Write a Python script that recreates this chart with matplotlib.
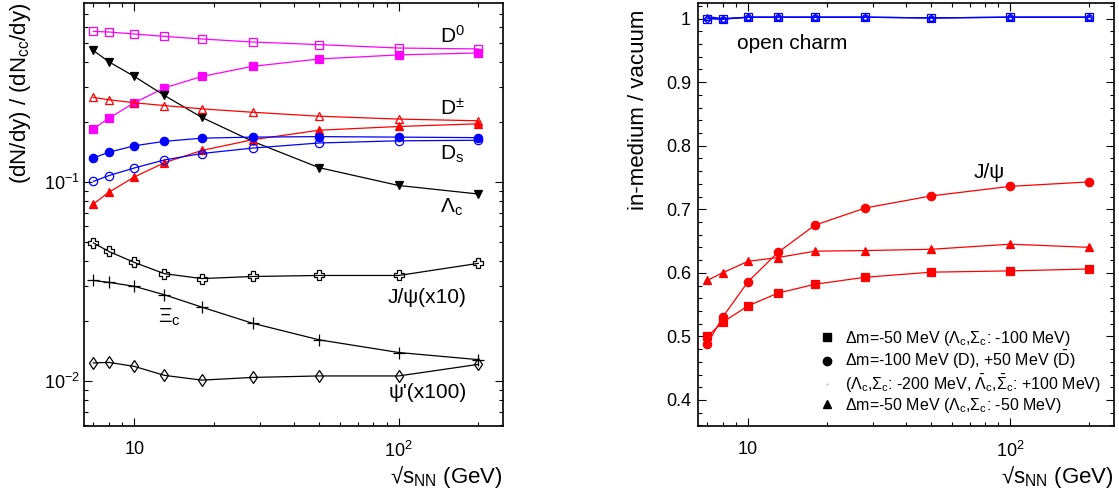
import numpy as np
import matplotlib
matplotlib.use("Agg")
import matplotlib.pyplot as plt
from matplotlib.lines import Line2D
from matplotlib.ticker import LogLocator, MultipleLocator, FuncFormatter, NullFormatter

plt.rcParams['font.family'] = ['Liberation Sans', 'DejaVu Sans']
plt.rcParams['mathtext.fontset'] = 'custom'
plt.rcParams['mathtext.rm'] = 'Liberation Sans'
plt.rcParams['mathtext.it'] = 'Liberation Sans:italic'
plt.rcParams['mathtext.bf'] = 'Liberation Sans:bold'

# ---------------------------------------------------------------- data
sqrt_s = [7, 8, 10, 13, 18, 28, 50, 100, 200]

# left: yields relative to charm pairs
d0_vac      = [0.571, 0.567, 0.554, 0.539, 0.523, 0.505, 0.490, 0.471, 0.466]
d0_med      = [0.185, 0.209, 0.250, 0.297, 0.339, 0.381, 0.415, 0.435, 0.445]
lc          = [0.458, 0.402, 0.339, 0.272, 0.211, 0.160, 0.118, 0.096, 0.087]
dpm_vac     = [0.266, 0.259, 0.250, 0.242, 0.233, 0.224, 0.214, 0.207, 0.203]
dpm_med     = [0.0775, 0.0887, 0.106, 0.125, 0.144, 0.163, 0.182, 0.190, 0.196]
ds_med      = [0.132, 0.141, 0.152, 0.160, 0.166, 0.168, 0.169, 0.168, 0.167]
ds_vac      = [0.1007, 0.1076, 0.1176, 0.129, 0.139, 0.148, 0.157, 0.161, 0.162]
jpsi_x10    = [0.0494, 0.0448, 0.0394, 0.0346, 0.0327, 0.0335, 0.0339, 0.0339, 0.0390]
xic         = [0.0320, 0.0313, 0.0299, 0.0271, 0.0235, 0.0195, 0.0161, 0.0139, 0.0128]
psip_x100   = [0.01232, 0.0124, 0.01184, 0.01067, 0.0101, 0.01042, 0.0106, 0.0106, 0.01212]

# right: in-medium / vacuum
oc_sq       = [1.000, 0.999, 1.002, 1.002, 1.002, 1.002, 1.001, 1.002, 1.002]
oc_ci       = [1.000, 0.999, 1.002, 1.002, 1.002, 1.002, 1.001, 1.002, 1.002]
oc_tr       = [1.003, 1.000, 1.002, 1.002, 1.002, 1.002, 1.001, 1.002, 1.002]
jpsi_sq     = [0.500, 0.522, 0.548, 0.568, 0.582, 0.593, 0.601, 0.603, 0.606]
jpsi_ci     = [0.488, 0.530, 0.586, 0.632, 0.675, 0.702, 0.721, 0.736, 0.743]
jpsi_tr     = [0.588, 0.600, 0.618, 0.624, 0.634, 0.635, 0.637, 0.645, 0.640]

legend_labels = [
    'Δm=-50 MeV (Λ$_{\\rm c}$,Σ$_{\\rm c}$: -100 MeV)',
    'Δm=-100 MeV (D), +50 MeV ($\\bar{\\rm D}$)',
    '(Λ$_{\\rm c}$,Σ$_{\\rm c}$: -200 MeV, $\\bar{\\Lambda}_{\\rm c}$,$\\bar{\\Sigma}_{\\rm c}$: +100 MeV)',
    'Δm=-50 MeV (Λ$_{\\rm c}$,Σ$_{\\rm c}$: -50 MeV)',
]

MAG = '#ff00ff'
RED = '#ff0000'
BLU = '#0000ff'
LW = 0.9
MS = 6

fig = plt.figure(figsize=(11.19, 4.93), dpi=100)
axL = fig.add_axes([84/1119, 1-426/493, 419/1119, 423/493])
axR = fig.add_axes([698/1119, 1-426/493, 416/1119, 423/493])


def style(ax):
    for s in ax.spines.values():
        s.set_linewidth(1.2)
    ax.tick_params(which='both', direction='in', top=True, right=True, labelsize=13, width=0.8)
    ax.tick_params(which='major', length=6)
    ax.tick_params(which='minor', length=3)
    ax.tick_params(axis='x', pad=11)


def logx(ax):
    ax.set_xscale('log')
    ax.set_xlim(6.45, 248)
    ax.xaxis.set_major_locator(LogLocator(base=10, numticks=10))
    ax.xaxis.set_minor_locator(LogLocator(base=10, subs=np.arange(2, 10), numticks=20))
    ax.xaxis.set_minor_formatter(NullFormatter())
    ax.xaxis.set_major_formatter(FuncFormatter(lambda v, p: '10' if abs(v-10) < 1e-6 else (r'$10^{2}$' if abs(v-100) < 1e-6 else '')))
    ax.set_xlabel('\u221as$_{\\rm NN}$ (GeV)', fontsize=16, ha='right', va='baseline')
    ax.xaxis.set_label_coords(1.0, -0.135)


# ---------------------------------------------------------------- left panel
def pl(ax, y, m, c, filled=True, ms=MS):
    ax.plot(sqrt_s, y, color=c, lw=LW, marker=m, ms=ms,
            mfc=c if filled else 'none', mec=c, mew=0.9)

pl(axL, d0_vac, 's', MAG, False)
pl(axL, d0_med, 's', MAG)
pl(axL, lc, 'v', 'black')
pl(axL, dpm_vac, '^', RED, False)
pl(axL, dpm_med, '^', RED)
pl(axL, ds_med, 'o', BLU)
pl(axL, ds_vac, 'o', BLU, False)
pl(axL, jpsi_x10, 'P', 'black', False, 7)
pl(axL, xic, '+', 'black', True, 8)
pl(axL, psip_x100, 'd', 'black', False, 6)

axL.set_yscale('log')
axL.set_ylim(0.00594, 0.793)
logx(axL)
axL.set_yticks([0.01, 0.1])
axL.set_yticklabels([r'$10^{-2}$', r'$10^{-1}$'])
axL.yaxis.set_minor_locator(LogLocator(base=10, subs=np.arange(2, 10), numticks=20))
axL.yaxis.set_minor_formatter(NullFormatter())
style(axL)
axL.tick_params(axis='y', pad=3)

fs = 15
axL.text(0.85, 0.905, 'D$^0$', transform=axL.transAxes, fontsize=fs, va='baseline')
axL.text(0.85, 0.735, 'D$^{\\pm}$', transform=axL.transAxes, fontsize=fs, va='baseline')
axL.text(0.85, 0.629, 'D$_{\\rm s}$', transform=axL.transAxes, fontsize=fs, va='baseline')
axL.text(0.85, 0.5035, 'Λ$_{\\rm c}$', transform=axL.transAxes, fontsize=fs, va='baseline')
axL.text(0.7255, 0.291, 'J/ψ(x10)', transform=axL.transAxes, fontsize=fs, va='baseline')
axL.text(0.177, 0.2435, 'Ξ$_{\\rm c}$', transform=axL.transAxes, fontsize=fs, va='baseline')
axL.text(0.728, 0.066, "ψ'(x100)", transform=axL.transAxes, fontsize=fs, va='baseline')

fig.text(21/1119, 1-3/493, '(dN/dy) / (dN$_{\\rm cc}$/dy)', rotation=90,
         ha='center', va='top', fontsize=16)

# ---------------------------------------------------------------- right panel
pl(axR, oc_sq, 's', BLU, False)
pl(axR, oc_ci, 'o', BLU, False, 4)
pl(axR, oc_tr, '^', BLU, False, 4)
pl(axR, jpsi_sq, 's', RED)
pl(axR, jpsi_ci, 'o', RED)
pl(axR, jpsi_tr, '^', RED)

axR.set_ylim(0.359, 1.0244)
logx(axR)
axR.yaxis.set_major_locator(MultipleLocator(0.1))
axR.yaxis.set_minor_locator(MultipleLocator(0.02))
axR.yaxis.set_major_formatter(FuncFormatter(lambda v, p: f'{v:.1f}'.rstrip('0').rstrip('.') if v < 0.999 else '1'))
style(axR)
axR.tick_params(axis='y', pad=5)

axR.text(0.226, 0.905, 'open charm', transform=axR.transAxes, fontsize=15, ha='center', va='center')
axR.text(0.70, 0.60, 'J/ψ', transform=axR.transAxes, fontsize=15, ha='center', va='center')

fig.text(639/1119, 1-10/493, 'in-medium / vacuum', rotation=90,
         ha='center', va='top', fontsize=16)

handles = [
    Line2D([], [], ls='none', marker='s', ms=6, color='black'),
    Line2D([], [], ls='none', marker='o', ms=6, color='black'),
    Line2D([], [], ls='none', marker='.', ms=1, color='#bbbbbb'),
    Line2D([], [], ls='none', marker='^', ms=6, color='black'),
]
axR.legend(handles, legend_labels, loc='lower left', bbox_to_anchor=(0.265, 0.0),
           frameon=False, fontsize=11.5, handlelength=1.0, handletextpad=0.6,
           labelspacing=0.08, borderpad=0.2)

fig.savefig('out.png', dpi=100)
